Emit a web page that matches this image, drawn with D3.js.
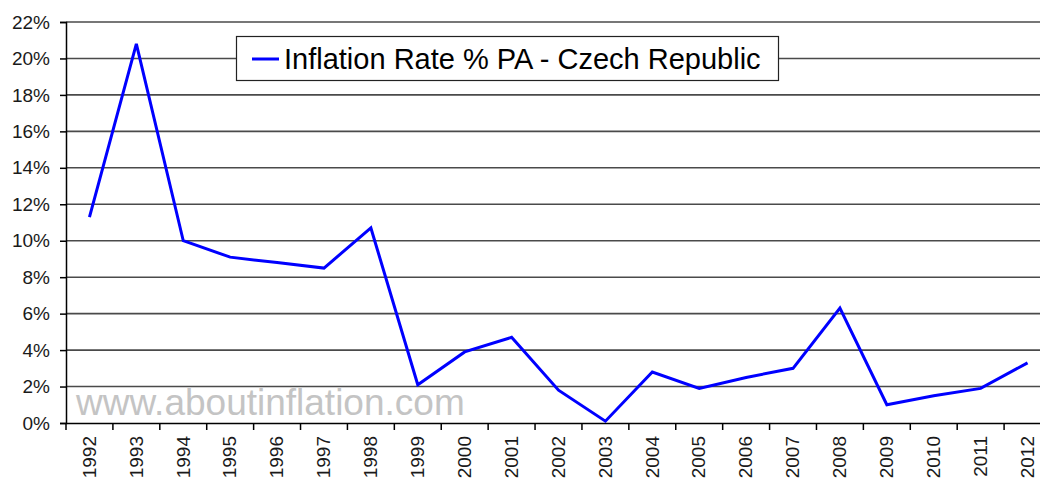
<!DOCTYPE html>
<html><head><meta charset="utf-8">
<script src="https://cdn.jsdelivr.net/npm/d3@7"></script>
<style>body{margin:0;background:#fff}svg{display:block}</style>
</head><body>
<svg id="c" width="1040" height="478"></svg>
<script>
const years = ["1992","1993","1994","1995","1996","1997","1998","1999","2000","2001","2002","2003","2004","2005","2006","2007","2008","2009","2010","2011","2012"];
const inflation = [11.3,20.8,10.0,9.1,8.8,8.5,10.7,2.1,3.9,4.7,1.8,0.1,2.8,1.9,2.5,3.0,6.3,1.0,1.5,1.9,3.3];
const yTicks = [0,2,4,6,8,10,12,14,16,18,20,22];
const seriesName = "Inflation Rate % PA - Czech Republic";
const watermark = "www.aboutinflation.com";

const svg = d3.select("#c");
const mLeft = 66, mRight = 1051, mTop = 22, mBottom = 423;
const font = "Liberation Sans, Arial, sans-serif";

const x = d3.scaleBand().domain(years).range([mLeft, mRight]).padding(0);
const y = d3.scaleLinear().domain([0, 22]).range([mBottom, mTop]);

// gridlines
svg.append("g").selectAll("line").data(yTicks.filter(d => d > 0)).join("line")
  .attr("x1", mLeft).attr("x2", mRight)
  .attr("y1", d => y(d)).attr("y2", d => y(d))
  .attr("stroke", "#4a4a4a").attr("stroke-width", 1.6);

// watermark
svg.append("text").attr("x", 76).attr("y", 415)
  .attr("font-family", font).attr("font-size", 37).attr("fill", "#c4c4c4")
  .text(watermark);

// y axis
const ya = svg.append("g").attr("transform", `translate(${mLeft},0)`)
  .call(d3.axisLeft(y).tickValues(yTicks).tickFormat(d => d + "%").tickSize(6).tickPadding(10));
ya.select(".domain").attr("stroke", "#000").attr("stroke-width", 1.5);
ya.selectAll(".tick line").attr("stroke", "#000").attr("stroke-width", 1.5);
ya.selectAll("text").attr("font-family", font).attr("font-size", 19).attr("fill", "#1a1a1a");

// x axis
const xa = svg.append("g").attr("transform", `translate(0,${mBottom})`)
  .call(d3.axisBottom(x).tickSize(0).tickFormat(d => d));
xa.select(".domain").attr("stroke", "#000").attr("stroke-width", 1.5);
xa.selectAll(".tick text")
  .attr("font-family", font).attr("font-size", 19).attr("fill", "#1a1a1a")
  .attr("transform", "rotate(-90)")
  .attr("text-anchor", "end").attr("dx", "-13px").attr("dy", "0.33em").attr("y", 0).attr("x", 0);
// boundary ticks
svg.append("g").selectAll("line").data(years.map((d, i) => i).concat([years.length])).join("line")
  .attr("x1", i => mLeft + i * x.bandwidth()).attr("x2", i => mLeft + i * x.bandwidth())
  .attr("y1", mBottom).attr("y2", mBottom + 7)
  .attr("stroke", "#000").attr("stroke-width", 1.5);

// line
const line = d3.line().x((d, i) => x(years[i]) + x.bandwidth() / 2).y(d => y(d));
svg.append("path").datum(inflation).attr("d", line)
  .attr("fill", "none").attr("stroke", "#0000ff").attr("stroke-width", 3).attr("stroke-linejoin", "miter");

// legend
const lg = svg.append("g");
lg.append("rect").attr("x", 236.5).attr("y", 36.5).attr("width", 542).attr("height", 44)
  .attr("fill", "#fff").attr("stroke", "#222").attr("stroke-width", 1.2);
lg.append("line").attr("x1", 252).attr("x2", 279).attr("y1", 59).attr("y2", 59)
  .attr("stroke", "#0000ff").attr("stroke-width", 3);
lg.append("text").attr("x", 284).attr("y", 69)
  .attr("font-family", font).attr("font-size", 29).attr("fill", "#000")
  .text(seriesName);
</script>
</body></html>
